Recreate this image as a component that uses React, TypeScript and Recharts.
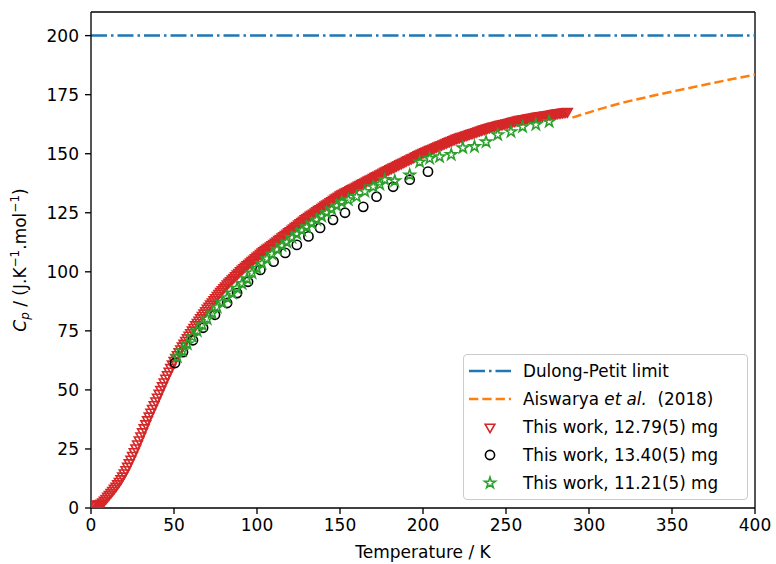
import React from "react";
import { ScatterChart, Scatter, XAxis, YAxis, ReferenceLine } from "recharts";

const FONT = "DejaVu Sans, Liberation Sans, sans-serif";
const RED = "#d62728";
const GREEN = "#2ca02c";
const BLUE = "#1f77b4";
const ORANGE = "#ff7f0e";

const X_TICKS = [0, 50, 100, 150, 200, 250, 300, 350, 400];
const Y_TICKS = [0, 25, 50, 75, 100, 125, 150, 175, 200];
const X_MAX = 400;
const Y_MAX = 210;
const DULONG_PETIT = 200;

// Aiswarya et al. (2018)
const AIS_T = [290, 305, 320, 335, 350, 375, 400];
const AIS_CP = [165.3, 168.6, 171.6, 174, 176.3, 180, 183.5];

// This work, 12.79(5) mg
const RED_T = [
  1, 2, 3, 4, 5, 6, 7, 8, 9, 10, 11, 12, 13, 14, 15, 16, 17, 18, 19, 20,
  21, 22, 23, 24, 25, 26, 27, 28, 29, 30, 31, 32, 33, 34, 35, 36, 37, 38, 39, 40,
  41, 42, 43, 44, 45, 46, 47, 48, 49, 50, 51, 52, 53, 54, 55, 56, 57, 58, 59, 60,
  61, 62, 63, 64, 65, 66, 67, 68, 69, 70, 71, 72, 73, 74, 75, 76, 77, 78, 79, 80,
  81, 82, 83, 84, 85, 86, 87, 88, 89, 90, 91, 92, 93, 94, 95, 96, 97, 98, 99, 100,
  101, 102, 103, 104, 105, 106, 107, 108, 109, 110, 111, 112, 113, 114, 115, 116, 117, 118, 119, 120,
  121, 122, 123, 124, 125, 126, 127, 128, 129, 130, 131, 132, 133, 134, 135, 136, 137, 138, 139, 140,
  141, 142, 143, 144, 145, 146, 147, 148, 149, 150, 151, 152, 153, 154, 155, 156, 157, 158, 159, 160,
  161, 162, 163, 164, 165, 166, 167, 168, 169, 170, 171, 172, 173, 174, 175, 176, 177, 178, 179, 180,
  181, 182, 183, 184, 185, 186, 187, 188, 189, 190, 191, 192, 193, 194, 195, 196, 197, 198, 199, 200,
  201, 202, 203, 204, 205, 206, 207, 208, 209, 210, 211, 212, 213, 214, 215, 216, 217, 218, 219, 220,
  221, 222, 223, 224, 225, 226, 227, 228, 229, 230, 231, 232, 233, 234, 235, 236, 237, 238, 239, 240,
  241, 242, 243, 244, 245, 246, 247, 248, 249, 250, 251, 252, 253, 254, 255, 256, 257, 258, 259, 260,
  261, 262, 263, 264, 265, 266, 267, 268, 269, 270, 271, 272, 273, 274, 275, 276, 277, 278, 279, 280,
  281, 282, 283, 284, 285, 286, 287,
];
const RED_CP = [
  1.5, 1.5, 1.5, 1.6, 1.8, 2.1, 2.6, 3.3, 4.1, 5.0, 5.8, 6.6, 7.5, 8.4, 9.3, 10.3, 11.3, 12.4, 13.6, 14.9,
  16.3, 17.7, 19.2, 20.7, 22.3, 23.9, 25.5, 27.2, 28.9, 30.6, 32.3, 34.0, 35.7, 37.4, 39.0, 40.6, 42.2, 43.8, 45.4, 47.0,
  48.6, 50.2, 51.8, 53.4, 55.0, 56.5, 58.0, 59.5, 61.0, 62.5, 63.8, 65.0, 66.2, 67.4, 68.6, 69.8, 71.0, 72.1, 73.2, 74.3,
  75.4, 76.5, 77.6, 78.6, 79.6, 80.6, 81.6, 82.6, 83.6, 84.6, 85.5, 86.4, 87.3, 88.2, 89.1, 90.0, 90.9, 91.7, 92.5, 93.3,
  94.1, 94.9, 95.6, 96.3, 97.0, 97.7, 98.4, 99.1, 99.8, 100.5, 101.2, 101.8, 102.4, 103.0, 103.6, 104.2, 104.8, 105.4, 106.0, 106.6,
  107.2, 107.8, 108.4, 109.0, 109.5, 110.0, 110.5, 111.0, 111.5, 112.0, 112.6, 113.1, 113.7, 114.2, 114.8, 115.3, 115.9, 116.4, 117.0, 117.5,
  118.1, 118.6, 119.2, 119.7, 120.3, 120.8, 121.4, 121.9, 122.5, 123.0, 123.5, 124.0, 124.4, 124.9, 125.4, 125.9, 126.4, 126.8, 127.3, 127.8,
  128.3, 128.8, 129.2, 129.7, 130.2, 130.7, 131.2, 131.6, 132.1, 132.6, 133.0, 133.3, 133.7, 134.1, 134.4, 134.8, 135.2, 135.6, 135.9, 136.3,
  136.7, 137.0, 137.4, 137.8, 138.1, 138.5, 138.9, 139.3, 139.6, 140.0, 140.4, 140.7, 141.1, 141.5, 141.8, 142.2, 142.6, 143.0, 143.3, 143.7,
  144.0, 144.4, 144.7, 145.1, 145.4, 145.8, 146.1, 146.5, 146.8, 147.2, 147.5, 147.8, 148.2, 148.5, 148.9, 149.2, 149.6, 149.9, 150.3, 150.6,
  150.9, 151.2, 151.5, 151.8, 152.1, 152.4, 152.7, 153.0, 153.3, 153.6, 153.9, 154.2, 154.5, 154.8, 155.1, 155.4, 155.7, 156.0, 156.3, 156.6,
  156.8, 157.1, 157.3, 157.5, 157.8, 158.0, 158.2, 158.5, 158.7, 158.9, 159.2, 159.4, 159.7, 159.9, 160.1, 160.4, 160.6, 160.8, 161.1, 161.3,
  161.5, 161.7, 161.8, 162.0, 162.2, 162.4, 162.5, 162.7, 162.9, 163.1, 163.2, 163.4, 163.6, 163.8, 163.9, 164.1, 164.3, 164.5, 164.6, 164.8,
  164.9, 165.0, 165.2, 165.3, 165.4, 165.5, 165.6, 165.8, 165.9, 166.0, 166.1, 166.2, 166.4, 166.5, 166.6, 166.7, 166.8, 167.0, 167.1, 167.2,
  167.3, 167.4, 167.5, 167.6, 167.7, 167.8, 167.9,
];

// This work, 13.40(5) mg
const CIRC_T = [50.6, 55.4, 61.4, 67.5, 74.7, 82, 88, 94.6, 102, 110, 117, 124, 131, 138, 145.8, 153, 164, 172, 182, 192, 203];
const CIRC_CP = [61.4, 66, 71, 76.3, 81.8, 86.8, 91, 95.8, 100.8, 104.3, 108, 111.4, 115, 118.6, 122, 125, 127.5, 131.8, 136, 139, 142.4];

// This work, 11.21(5) mg
const STAR_T = [
  52, 55, 58, 61, 64, 67, 70, 73, 76, 79, 82, 85, 88, 91, 94, 97, 100, 103, 106, 109,
  112, 115, 118, 121, 124, 127, 130, 133, 136, 139, 142, 145, 148, 151, 155, 160, 165, 170, 174, 177,
  183, 192, 198, 204, 210, 217, 224, 231, 238, 245, 253, 260, 268, 276,
];
const STAR_CP = [
  64, 66.5, 69.5, 72.5, 75, 77.5, 80, 82.5, 85, 87, 89, 91, 93, 95, 97, 99.5, 101.5, 103.5, 105.5, 107.5,
  109.5, 111, 112.5, 114.5, 116, 117.5, 119, 120.5, 122, 123.5, 125, 126.5, 128, 129.5, 130.5, 131.8, 134, 136, 137, 139,
  138.5, 141, 146.5, 148, 148.7, 149.6, 152.5, 153, 155, 158, 159.3, 161.4, 162.3, 163.6,
];

const toPts = (ts: number[], cps: number[]) => ts.map((T, i) => ({ T, cp: cps[i] }));

const aisData = toPts(AIS_T, AIS_CP);
const redData = toPts(RED_T, RED_CP);
const circData = toPts(CIRC_T, CIRC_CP);
const starData = toPts(STAR_T, STAR_CP);

const SW = 1.6;

function TriDown({ cx, cy }: { cx: number; cy: number }) {
  const r = 5.6;
  const dx = r * 0.866;
  return (
    <path
      d={`M${cx},${cy + r}L${cx - dx},${cy - r / 2}L${cx + dx},${cy - r / 2}Z`}
      fill="none"
      stroke={RED}
      strokeWidth={SW}
    />
  );
}

function Circ({ cx, cy }: { cx: number; cy: number }) {
  return <circle cx={cx} cy={cy} r={4.6} fill="none" stroke="#000" strokeWidth={SW} />;
}

function Star({ cx, cy }: { cx: number; cy: number }) {
  const R = 5.8;
  const r = R * 0.382;
  let d = "";
  for (let k = 0; k < 10; k++) {
    const rad = k % 2 === 0 ? R : r;
    const a = (Math.PI / 5) * k - Math.PI / 2;
    d += `${k === 0 ? "M" : "L"}${cx + rad * Math.cos(a)},${cy + rad * Math.sin(a)}`;
  }
  return <path d={d + "Z"} fill="none" stroke={GREEN} strokeWidth={SW} />;
}

const YLabel = () => (
  <text
    transform="translate(26,260) rotate(-90)"
    textAnchor="middle"
    fontSize={17}
    fontFamily={FONT}
    fill="#000"
  >
    <tspan fontStyle="italic">C</tspan>
    <tspan fontStyle="italic" fontSize={12} dy={3}>p</tspan>
    <tspan dy={-3}>{" / (J.K"}</tspan>
    <tspan fontSize={12} dy={-7}>−1</tspan>
    <tspan dy={7}>.mol</tspan>
    <tspan fontSize={12} dy={-7}>−1</tspan>
    <tspan dy={7}>)</tspan>
  </text>
);

const legendRows = [
  { key: "dp", label: <>Dulong-Petit limit</> },
  { key: "ais", label: <>Aiswarya <i>et al.</i>&nbsp; (2018)</> },
  { key: "red", label: <>This work, 12.79(5) mg</> },
  { key: "circ", label: <>This work, 13.40(5) mg</> },
  { key: "star", label: <>This work, 11.21(5) mg</> },
];

function LegendSample({ k }: { k: string }) {
  return (
    <svg width={46} height={20} style={{ display: "block" }}>
      {k === "dp" && (
        <line x1={2} y1={10} x2={44} y2={10} stroke={BLUE} strokeWidth={2.5} strokeDasharray="16 4 2.5 4" />
      )}
      {k === "ais" && (
        <line x1={2} y1={10} x2={44} y2={10} stroke={ORANGE} strokeWidth={2.5} strokeDasharray="9.3 4" />
      )}
      {k === "red" && <TriDown cx={23} cy={10} />}
      {k === "circ" && <Circ cx={23} cy={10} />}
      {k === "star" && <Star cx={23} cy={10} />}
    </svg>
  );
}

function LegendBox() {
  return (
    <div
      style={{
        position: "absolute",
        left: 463,
        top: 354,
        width: 283,
        height: 142,
        border: "1px solid #cccccc",
        borderRadius: 4,
        background: "rgba(255,255,255,0.8)",
        fontFamily: FONT,
        fontSize: 16.8,
        color: "#000",
        paddingTop: 2,
        boxSizing: "content-box",
      }}
    >
      {legendRows.map((r) => (
        <div key={r.key} style={{ display: "flex", alignItems: "center", height: 28 }}>
          <div style={{ width: 46, marginLeft: 3 }}>
            <LegendSample k={r.key} />
          </div>
          <div style={{ marginLeft: 10, whiteSpace: "nowrap", lineHeight: "20px" }}>{r.label}</div>
        </div>
      ))}
    </div>
  );
}

const axisStroke = { stroke: "#000", strokeWidth: 1.34 };
const tickStyle = { fill: "#000", fontSize: 17, fontFamily: FONT };

export default function App() {
  return (
    <div style={{ position: "absolute", left: 0, top: 0, width: 776, height: 564, background: "#fff" }}>
      <ScatterChart width={776} height={564} margin={{ top: 12, right: 21, bottom: 0, left: 0 }}>
        <XAxis
          type="number"
          dataKey="T"
          domain={[0, X_MAX]}
          ticks={X_TICKS}
          allowDataOverflow
          height={56}
          tickSize={6}
          tickMargin={5}
          axisLine={axisStroke}
          tickLine={axisStroke}
          tick={tickStyle}
          label={{ value: "Temperature / K", position: "insideBottom", offset: 6, fill: "#000", fontSize: 17, fontFamily: FONT }}
        />
        <YAxis
          type="number"
          dataKey="cp"
          domain={[0, Y_MAX]}
          ticks={Y_TICKS}
          allowDataOverflow
          width={91}
          tickSize={6}
          tickMargin={6}
          axisLine={axisStroke}
          tickLine={axisStroke}
          tick={tickStyle}
          label={{ content: () => <YLabel /> }}
        />
        <ReferenceLine y={Y_MAX} stroke="#000" strokeWidth={1.34} ifOverflow="visible" />
        <ReferenceLine x={X_MAX} stroke="#000" strokeWidth={1.34} ifOverflow="visible" />
        <ReferenceLine y={DULONG_PETIT} stroke={BLUE} strokeWidth={2.5} strokeDasharray="16 4 2.5 4" />
        <Scatter
          data={aisData}
          line={{ stroke: ORANGE, strokeWidth: 2.5, strokeDasharray: "9.3 4" }}
          lineType="joint"
          shape={() => <g />}
          isAnimationActive={false}
        />
        <Scatter data={redData} shape={(p: any) => <TriDown cx={p.cx} cy={p.cy} />} isAnimationActive={false} />
        <Scatter data={circData} shape={(p: any) => <Circ cx={p.cx} cy={p.cy} />} isAnimationActive={false} />
        <Scatter data={starData} shape={(p: any) => <Star cx={p.cx} cy={p.cy} />} isAnimationActive={false} />
      </ScatterChart>
      <LegendBox />
    </div>
  );
}
